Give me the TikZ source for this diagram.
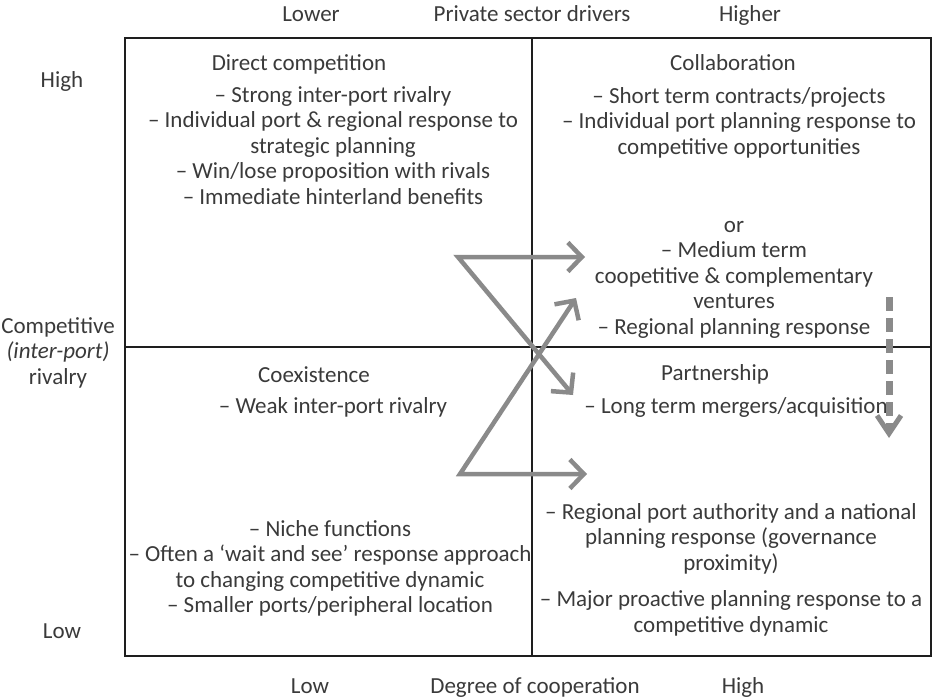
\documentclass[tikz,border=0pt]{standalone}
\usepackage{fontspec}
\setmainfont{Carlito}
\usetikzlibrary{arrows.meta}
\definecolor{txt}{HTML}{3A3A3A}
\definecolor{arr}{HTML}{8A8A8A}
\definecolor{rule}{HTML}{1E1E1E}
\begin{document}
\begin{tikzpicture}[x=1pt,y=-1pt,
  lbl/.style={font=\fontsize{23}{25.5}\selectfont, text=txt, inner sep=0pt, anchor=base, align=center},
  frame/.style={line width=2pt, draw=rule},
  divider/.style={line width=1.5pt, draw=rule},
  movearrow/.style={draw=arr, line width=4.5pt, line join=miter, miter limit=10,
    {Straight Barb[length=14pt,width=29pt]}-{Straight Barb[length=14pt,width=29pt]}},
  downarrow/.style={draw=arr, line width=7pt, dash pattern=on 14pt off 7pt,
    -{Straight Barb[length=18pt,width=24pt,line width=5pt]}}
]
\useasboundingbox (0,0) rectangle (933,698);

% frame and dividers
\coordinate (nw) at (125,38);
\coordinate (se) at (931,656);
\coordinate (vtop) at (532,38);
\coordinate (vbot) at (532,656);
\coordinate (hl) at (125,347);
\coordinate (hr) at (931,347);
\draw[frame] (nw) rectangle (se);
\draw[divider] (vtop) -- (vbot);
\draw[divider] (hl) -- (hr);

% top and bottom axis labels (anchor = baseline of last line)
\node[lbl] (lower) at (311,22) {Lower};
\node[lbl] (private) at (532,22) {Private sector drivers};
\node[lbl] (higher) at (750,22) {Higher};
\node[lbl] (low) at (310,693) {Low};
\node[lbl] (degree) at (535,693) {Degree of cooperation};
\node[lbl] (high) at (743,693) {High};

% left axis labels
\node[lbl] (lhigh) at (62,88) {High};
\node[lbl] (lcomp) at (58,384) {Competitive\\\textit{(inter-port)}\\rivalry};
\node[lbl] (llow) at (62,638) {Low};

% top-left quadrant
\node[lbl] (dctitle) at (299,71) {Direct competition};
\node[lbl] (dcitems) at (333,204) {– Strong inter-port rivalry\\– Individual port \& regional response to\\strategic planning\\– Win/lose proposition with rivals\\– Immediate hinterland benefits};

% top-right quadrant
\node[lbl] (coltitle) at (733,71) {Collaboration};
\node[lbl] (colitems) at (739,154) {– Short term contracts/projects\\– Individual port planning response to\\competitive opportunities};
\node[lbl] (colmore) at (734,334) {or\\– Medium term\\coopetitive \& complementary\\ventures\\– Regional planning response};

% bottom-left quadrant
\node[lbl] (cotitle) at (314,382) {Coexistence};
\node[lbl] (coitem) at (333,413) {– Weak inter-port rivalry};
\node[lbl] (coitems) at (330,612.5) {– Niche functions\\– Often a ‘wait and see’ response approach\\to changing competitive dynamic\\– Smaller ports/peripheral location};

% bottom-right quadrant
\node[lbl] (ptitle) at (715,380) {Partnership};
\node[lbl] (pitem) at (736,413) {– Long term mergers/acquisition};
\node[lbl] (pitems) at (731,632) {– Regional port authority and a national\\planning response (governance\\proximity)\\[11pt]– Major proactive planning response to a\\competitive dynamic};

% movement arrows
\coordinate (zc1) at (458,257);
\coordinate (zt1) at (585,257);
\coordinate (zd1) at (573,395);
\coordinate (zc2) at (460,474);
\coordinate (zt2) at (587,474);
\coordinate (zu2) at (576,298);
\draw[movearrow] (zt1) -- (zc1) -- (zd1);
\draw[movearrow] (zt2) -- (zc2) -- (zu2);

\coordinate (dstart) at (889,297);
\coordinate (dend) at (889,438);
\draw[downarrow] (dstart) -- (dend);
\end{tikzpicture}
\end{document}
